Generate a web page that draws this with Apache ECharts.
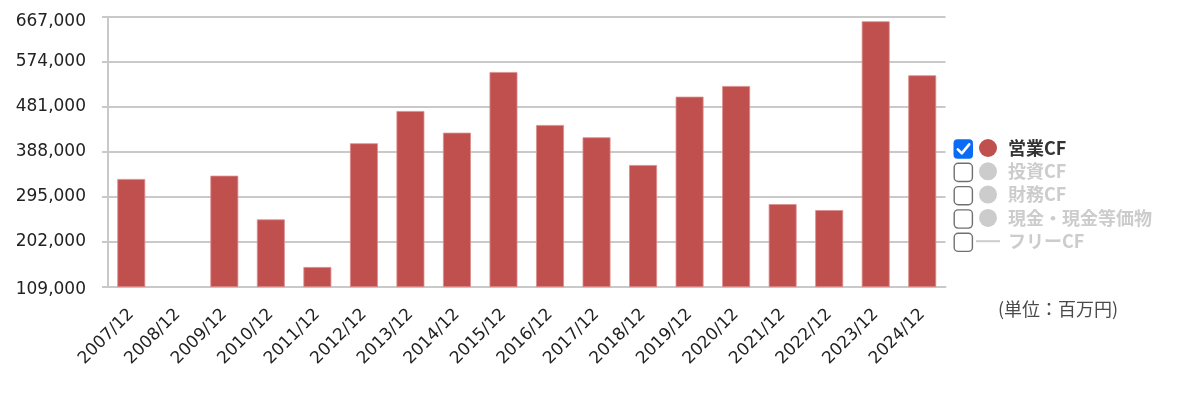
<!DOCTYPE html>
<html>
<head>
<meta charset="utf-8">
<script src="https://cdn.jsdelivr.net/npm/echarts@6/dist/echarts.min.js"></script>
<style>
  html, body { margin: 0; padding: 0; background: #fff; }
  #chart { width: 1200px; height: 402px; }
</style>
</head>
<body>
<div id="chart"></div>
<script>
const categories = ['2007/12', '2008/12', '2009/12', '2010/12', '2011/12', '2012/12', '2013/12', '2014/12', '2015/12',
  '2016/12', '2017/12', '2018/12', '2019/12', '2020/12', '2021/12', '2022/12', '2023/12', '2024/12'];
// 営業CF (百万円)
const operatingCF = [331600, null, 338400, 248100, 149700, 405400, 472100, 427300, 552700,
  443200, 417800, 360500, 501700, 523800, 279700, 267300, 657500, 545900];
const investingCF = [];
const financingCF = [];
const cashEquiv = [];
const freeCF = [];
const yTicks = [109000, 202000, 295000, 388000, 481000, 574000, 667000];
const legendNames = ['営業CF', '投資CF', '財務CF', '現金・現金等価物', 'フリーCF'];
const legendChecked = [true, false, false, false, false];

const chart = echarts.init(document.getElementById('chart'));

const axisGrey = '#c9c9c9';
const labelFont = 'DejaVu Sans';

// checkbox graphics next to legend
const boxes = [];
legendNames.forEach((name, i) => {
  const y = 139.3 + i * 23.3;
  if (legendChecked[i]) {
    boxes.push({
      type: 'rect', left: 953.5, top: y,
      shape: { width: 19.5, height: 19.5, r: 4 },
      style: { fill: '#0a6cf5' }
    });
    boxes.push({
      type: 'polyline',
      shape: { points: [[957.8, y + 10], [961.8, y + 14], [969.2, y + 5]] },
      style: { stroke: '#fff', lineWidth: 2.6, fill: null, lineCap: 'round', lineJoin: 'round' }
    });
  } else {
    boxes.push({
      type: 'rect',
      shape: { x: 954.2, y: y + 0.7, width: 18.2, height: 18.2, r: 4 },
      style: { fill: '#fff', stroke: '#707070', lineWidth: 1.4 }
    });
  }
});
boxes.push({
  type: 'text', left: 998, top: 300,
  style: { text: '(単位：百万円)', font: '18px "Noto Sans CJK JP"', fill: '#4a4a4a' }
});

const selected = {};
legendNames.forEach((n, i) => { selected[n] = legendChecked[i]; });

const option = {
  animation: false,
  grid: { left: 108, right: 254.5, top: 16.7, bottom: 115.3 },
  legend: {
    orient: 'vertical',
    left: 976,
    top: 139,
    padding: 0,
    itemWidth: 24,
    itemHeight: 18,
    itemGap: 5.3,
    inactiveColor: '#cccccc',
    selected: selected,
    itemStyle: { borderWidth: 0 },
    textStyle: {
      fontFamily: 'Noto Sans CJK JP',
      fontSize: 18,
      fontWeight: 'bold',
      color: '#333',
      lineHeight: 18,
      padding: [0, 0, 0, 3]
    },
    data: [
      { name: '営業CF', icon: 'circle' },
      { name: '投資CF', icon: 'circle' },
      { name: '財務CF', icon: 'circle' },
      { name: '現金・現金等価物', icon: 'circle' },
      { name: 'フリーCF', icon: 'path://M0,0L24,0L24,2L0,2Z' }
    ]
  },
  xAxis: {
    type: 'category',
    data: categories,
    axisLine: { lineStyle: { color: axisGrey, width: 2 } },
    axisTick: { inside: true, length: 10, lineStyle: { color: axisGrey, width: 2 } },
    axisLabel: {
      rotate: 45,
      margin: 25,
      interval: 0,
      fontFamily: labelFont,
      fontSize: 17,
      color: '#222'
    }
  },
  yAxis: {
    type: 'value',
    min: yTicks[0],
    max: yTicks[yTicks.length - 1],
    interval: yTicks[1] - yTicks[0],
    axisLine: { show: true, lineStyle: { color: axisGrey, width: 2 } },
    axisTick: { show: true, length: 6, lineStyle: { color: axisGrey, width: 2 } },
    splitLine: { lineStyle: { color: axisGrey, width: 2 } },
    axisLabel: {
      margin: 22,
      fontFamily: labelFont,
      fontSize: 17,
      color: '#222',
      formatter: v => {
        const s = v.toLocaleString('en-US');
        if (v === yTicks[yTicks.length - 1]) return '{top|' + s + '}';
        if (v === yTicks[0]) return '{bot|' + s + '}';
        return s;
      },
      rich: {
        top: { fontFamily: labelFont, fontSize: 17, color: '#222', padding: [9, 0, 0, 0] },
        bot: { fontFamily: labelFont, fontSize: 17, color: '#222', padding: [6, 0, 0, 0] }
      }
    }
  },
  series: [
    {
      name: '営業CF', type: 'bar', data: operatingCF, barWidth: '60%',
      itemStyle: { color: '#c0504e', borderColor: '#dc8e8c', borderWidth: 0.8 }
    },
    { name: '投資CF', type: 'bar', data: investingCF, barWidth: '60%' },
    { name: '財務CF', type: 'bar', data: financingCF, barWidth: '60%' },
    { name: '現金・現金等価物', type: 'bar', data: cashEquiv, barWidth: '60%' },
    { name: 'フリーCF', type: 'line', data: freeCF, symbol: 'none' }
  ],
  graphic: boxes
};

chart.setOption(option);
</script>
</body>
</html>
